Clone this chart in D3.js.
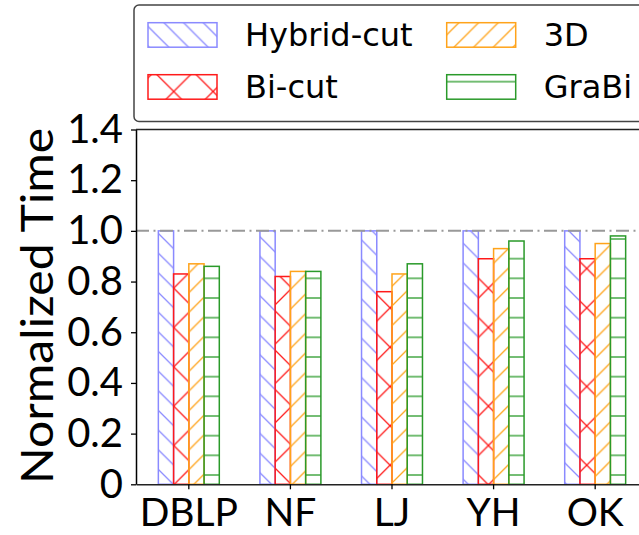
<!DOCTYPE html>
<html>
<head>
<meta charset="utf-8">
<script src="https://cdn.jsdelivr.net/npm/d3@7"></script>
<style>
  html, body { margin: 0; padding: 0; background: #fff; }
  svg { display: block; }
</style>
</head>
<body>
<svg id="chart" width="639" height="535"></svg>
<script>
// Data
const categories = ["DBLP", "NF", "LJ", "YH", "OK"];
const seriesNames = ["Hybrid-cut", "Bi-cut", "3D", "GraBi"];
const hybridCut = [1.00, 1.00, 1.00, 1.00, 1.00];
const biCut     = [0.83, 0.82, 0.76, 0.89, 0.89];
const threeD    = [0.87, 0.84, 0.83, 0.93, 0.95];
const graBi     = [0.86, 0.84, 0.87, 0.96, 0.98];
const yTickValues = [0, 0.2, 0.4, 0.6, 0.8, 1.0, 1.2, 1.4];
const yTickLabels = ["0", "0.2", "0.4", "0.6", "0.8", "1.0", "1.2", "1.4"];
const baseline = 1.0;

const seriesValues = [hybridCut, biCut, threeD, graBi];
const seriesColors = ["#8a8aff", "#ff1a1a", "#ffa31a", "#2a9a2a"];
const seriesHatch = ["back", "cross", "fwd", "horiz"];

const svg = d3.select("#chart");
const plot = { left: 136, right: 648, top: 129.5, bottom: 484.3 };

const x = d3.scaleBand()
  .domain(categories)
  .range([plot.left, plot.right])
  .paddingInner(0.4)
  .paddingOuter(0.22);

const xInner = d3.scaleBand()
  .domain(seriesNames)
  .range([0, x.bandwidth()]);

const y = d3.scaleLinear()
  .domain([0, 1.4])
  .range([plot.bottom, plot.top]);

// Hatch patterns share one lattice so the strokes line up across bars
const s = 19.667, S = 2 * s, ox = 16.4, oy = 12.83, hw = 1.3;
const defs = svg.append("defs");
function pattern(id, size, d, color) {
  const p = defs.append("pattern")
    .attr("id", id)
    .attr("patternUnits", "userSpaceOnUse")
    .attr("x", ox).attr("y", oy)
    .attr("width", size).attr("height", size);
  p.append("path").attr("d", d)
    .attr("stroke", color).attr("stroke-width", hw)
    .attr("fill", "none").attr("stroke-linecap", "square");
}
const back = z => `M0,0L${z},${z}M-2,${z - 2}L2,${z + 2}M${z - 2},-2L${z + 2},2`;
const fwd = z => `M0,${z}L${z},0M-2,2L2,-2M${z - 2},${z + 2}L${z + 2},${z - 2}`;
seriesNames.forEach((name, i) => {
  const c = seriesColors[i];
  const id = "hatch" + i;
  if (seriesHatch[i] === "back") pattern(id, s, back(s), c);
  if (seriesHatch[i] === "fwd") pattern(id, s, fwd(s), c);
  if (seriesHatch[i] === "cross") pattern(id, S, back(S) + fwd(S), c);
  if (seriesHatch[i] === "horiz") pattern(id, s, `M-1,${s / 2}L${s + 1},${s / 2}`, c);
});

// Bars
const bars = [];
categories.forEach((cat, ci) => {
  seriesNames.forEach((name, si) => {
    bars.push({ cat, name, si, value: seriesValues[si][ci] });
  });
});

svg.append("g")
  .selectAll("rect")
  .data(bars)
  .join("rect")
  .attr("x", d => x(d.cat) + xInner(d.name))
  .attr("y", d => y(d.value))
  .attr("width", xInner.bandwidth())
  .attr("height", d => y(0) - y(d.value))
  .attr("fill", d => `url(#hatch${d.si})`)
  .attr("stroke", d => seriesColors[d.si])
  .attr("stroke-width", 1.5);

// Reference line at 1.0
svg.append("line")
  .attr("x1", plot.left).attr("x2", plot.right)
  .attr("y1", y(baseline)).attr("y2", y(baseline))
  .attr("stroke", "#999")
  .attr("stroke-width", 2)
  .attr("stroke-dasharray", "13,4.5,2,4.5");

// Axes
const fontTick = "Lato, 'Open Sans', sans-serif";
const yAxis = svg.append("g")
  .attr("transform", `translate(${plot.left},0)`)
  .call(d3.axisLeft(y)
    .tickValues(yTickValues)
    .tickFormat((d, i) => yTickLabels[i])
    .tickSize(5).tickSizeOuter(0).tickPadding(8));
yAxis.selectAll("text").style("font-family", fontTick).style("font-size", "40px").attr("fill", "#000");
yAxis.selectAll("line").attr("stroke", "#000").attr("stroke-width", 1.3);
yAxis.select(".domain").attr("stroke", "#000").attr("stroke-width", 1.5);

const xAxis = svg.append("g")
  .attr("transform", `translate(0,${plot.bottom})`)
  .call(d3.axisBottom(x).tickSize(5).tickSizeOuter(0).tickPadding(9));
xAxis.selectAll("text")
  .style("font-family", fontTick).style("font-size", "39px").attr("fill", "#000")
  .attr("dy", null).attr("y", 42);
xAxis.selectAll("line").attr("stroke", "#000").attr("stroke-width", 1.3);
xAxis.select(".domain").attr("stroke", "#222").attr("stroke-width", 1.5);

// Top and right spines
svg.append("path")
  .attr("d", `M${plot.left},${plot.top}H${plot.right}V${plot.bottom}`)
  .attr("fill", "none").attr("stroke", "#222").attr("stroke-width", 1.5);

// Axis title
svg.append("text")
  .attr("transform", `translate(53,${(plot.top + plot.bottom) / 2 - 1}) rotate(-90)`)
  .attr("text-anchor", "middle")
  .attr("textLength", 356)
  .attr("lengthAdjust", "spacingAndGlyphs")
  .style("font-family", fontTick)
  .style("font-size", "44px")
  .text("Normalized Time");

// Legend
const legend = svg.append("g");
legend.append("rect")
  .attr("x", 134).attr("y", 5)
  .attr("width", 620).attr("height", 116.5)
  .attr("rx", 5)
  .attr("fill", "#fff")
  .attr("stroke", "#444").attr("stroke-width", 1.5);

const legendItems = [
  { si: 0, col: 0, row: 0 },
  { si: 1, col: 0, row: 1 },
  { si: 2, col: 1, row: 0 },
  { si: 3, col: 1, row: 1 }
];
const colX = [148, 446.7], rowY = [22.7, 74.7];
legendItems.forEach(it => {
  legend.append("rect")
    .attr("x", colX[it.col]).attr("y", rowY[it.row])
    .attr("width", 69).attr("height", 24.5)
    .attr("fill", `url(#hatch${it.si})`)
    .attr("stroke", seriesColors[it.si])
    .attr("stroke-width", 1.5);
  legend.append("text")
    .attr("x", colX[it.col] + 97)
    .attr("y", rowY[it.row] + 23.5)
    .style("font-family", "'DejaVu Sans', sans-serif")
    .style("font-size", "32px")
    .attr("fill", "#000")
    .text(seriesNames[it.si]);
});
</script>
</body>
</html>
